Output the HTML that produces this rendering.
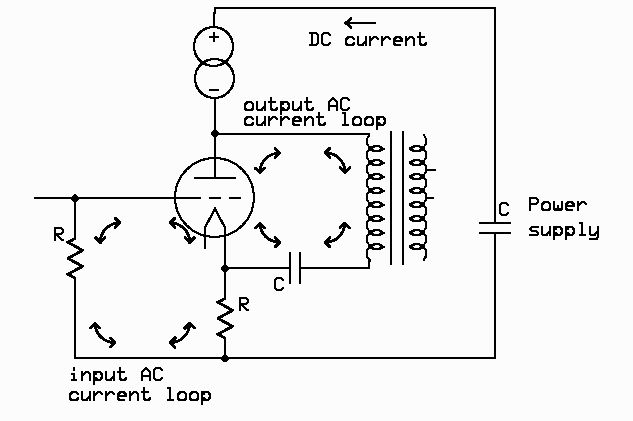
<!DOCTYPE html>
<html><head><meta charset="utf-8"><style>
html,body{margin:0;padding:0;background:#fcfcfc;width:633px;height:421px;overflow:hidden}
svg{display:block}
</style></head><body>
<svg width="633" height="421" viewBox="0 0 633 421">
<g fill="#000" shape-rendering="crispEdges">
<rect x="214" y="7" width="282" height="2"/>
<rect x="214" y="7" width="2" height="7"/>
<rect x="213" y="12" width="2" height="15"/>
<rect x="494" y="7" width="2" height="217"/>
<rect x="494" y="232" width="2" height="127"/>
<rect x="479" y="222" width="32" height="2"/>
<rect x="479" y="232" width="32" height="2"/>
<rect x="74" y="357" width="422" height="2"/>
<rect x="74" y="197" width="2" height="42"/>
<rect x="74" y="277" width="2" height="82"/>
<rect x="34" y="197" width="167" height="2"/>
<rect x="209" y="197" width="12" height="2"/>
<rect x="229" y="197" width="12" height="2"/>
<rect x="214" y="98" width="2" height="36"/>
<rect x="214" y="133" width="2" height="45"/>
<rect x="194" y="177" width="42" height="2"/>
<rect x="214" y="133" width="156" height="2"/>
<rect x="224" y="227" width="2" height="72"/>
<rect x="204" y="227" width="2" height="22"/>
<rect x="224" y="267" width="67" height="2"/>
<rect x="289" y="252" width="2" height="32"/>
<rect x="299" y="252" width="2" height="32"/>
<rect x="299" y="267" width="71" height="2"/>
<rect x="224" y="338" width="2" height="21"/>
<rect x="390" y="131" width="2" height="134"/>
<rect x="402" y="131" width="2" height="134"/>
<rect x="427" y="169" width="9" height="2"/>
<rect x="427" y="197" width="7" height="2"/>
<rect x="213" y="130" width="4" height="1"/>
<rect x="212" y="131" width="6" height="1"/>
<rect x="211" y="132" width="8" height="1"/>
<rect x="211" y="133" width="8" height="1"/>
<rect x="211" y="134" width="8" height="1"/>
<rect x="212" y="135" width="6" height="1"/>
<rect x="213" y="136" width="4" height="1"/>
<rect x="223" y="265" width="4" height="1"/>
<rect x="222" y="266" width="6" height="1"/>
<rect x="221" y="267" width="8" height="1"/>
<rect x="221" y="268" width="8" height="1"/>
<rect x="221" y="269" width="8" height="1"/>
<rect x="222" y="270" width="6" height="1"/>
<rect x="223" y="271" width="4" height="1"/>
<rect x="223" y="355" width="4" height="1"/>
<rect x="222" y="356" width="6" height="1"/>
<rect x="221" y="357" width="8" height="1"/>
<rect x="221" y="358" width="8" height="1"/>
<rect x="221" y="359" width="8" height="1"/>
<rect x="222" y="360" width="6" height="1"/>
<rect x="223" y="361" width="4" height="1"/>
<rect x="74" y="194" width="2" height="1"/>
<rect x="73" y="195" width="4" height="1"/>
<rect x="72" y="196" width="6" height="1"/>
<rect x="71" y="197" width="8" height="1"/>
<rect x="71" y="198" width="8" height="1"/>
<rect x="71" y="199" width="8" height="1"/>
<rect x="72" y="200" width="6" height="1"/>
<rect x="73" y="201" width="4" height="1"/>
<rect x="209" y="36" width="10" height="2"/>
<rect x="213" y="32" width="2" height="10"/>
<rect x="209" y="89" width="10" height="2"/>
<rect x="366" y="140" width="2" height="1"/>
<rect x="425" y="140" width="2" height="1"/>
<rect x="366" y="141" width="2" height="1"/>
<rect x="425" y="141" width="2" height="1"/>
<rect x="366" y="142" width="2" height="1"/>
<rect x="425" y="142" width="2" height="1"/>
<rect x="366" y="143" width="2" height="1"/>
<rect x="425" y="143" width="2" height="1"/>
<rect x="366" y="144" width="3" height="1"/>
<rect x="424" y="144" width="3" height="1"/>
<rect x="367" y="145" width="2" height="1"/>
<rect x="424" y="145" width="2" height="1"/>
<rect x="373" y="145" width="7" height="1"/>
<rect x="413" y="145" width="7" height="1"/>
<rect x="368" y="146" width="14" height="1"/>
<rect x="411" y="146" width="14" height="1"/>
<rect x="368" y="147" width="7" height="1"/>
<rect x="379" y="147" width="4" height="1"/>
<rect x="368" y="148" width="5" height="1"/>
<rect x="380" y="148" width="5" height="1"/>
<rect x="368" y="149" width="6" height="1"/>
<rect x="379" y="149" width="6" height="1"/>
<rect x="367" y="150" width="16" height="1"/>
<rect x="410" y="150" width="16" height="1"/>
<rect x="366" y="151" width="3" height="1"/>
<rect x="424" y="151" width="3" height="1"/>
<rect x="372" y="151" width="9" height="1"/>
<rect x="412" y="151" width="9" height="1"/>
<rect x="366" y="152" width="2" height="1"/>
<rect x="425" y="152" width="2" height="1"/>
<rect x="366" y="153" width="2" height="1"/>
<rect x="425" y="153" width="2" height="1"/>
<rect x="409" y="147" width="6" height="1"/>
<rect x="419" y="147" width="6" height="1"/>
<rect x="409" y="148" width="4" height="1"/>
<rect x="420" y="148" width="5" height="1"/>
<rect x="409" y="149" width="5" height="1"/>
<rect x="419" y="149" width="6" height="1"/>
<rect x="366" y="154" width="2" height="1"/>
<rect x="425" y="154" width="2" height="1"/>
<rect x="366" y="155" width="2" height="1"/>
<rect x="425" y="155" width="2" height="1"/>
<rect x="366" y="156" width="2" height="1"/>
<rect x="425" y="156" width="2" height="1"/>
<rect x="366" y="157" width="2" height="1"/>
<rect x="425" y="157" width="2" height="1"/>
<rect x="366" y="158" width="3" height="1"/>
<rect x="424" y="158" width="3" height="1"/>
<rect x="367" y="159" width="2" height="1"/>
<rect x="424" y="159" width="2" height="1"/>
<rect x="373" y="159" width="7" height="1"/>
<rect x="413" y="159" width="7" height="1"/>
<rect x="368" y="160" width="14" height="1"/>
<rect x="411" y="160" width="14" height="1"/>
<rect x="368" y="161" width="7" height="1"/>
<rect x="379" y="161" width="4" height="1"/>
<rect x="368" y="162" width="5" height="1"/>
<rect x="380" y="162" width="5" height="1"/>
<rect x="368" y="163" width="6" height="1"/>
<rect x="379" y="163" width="6" height="1"/>
<rect x="367" y="164" width="16" height="1"/>
<rect x="410" y="164" width="16" height="1"/>
<rect x="366" y="165" width="3" height="1"/>
<rect x="424" y="165" width="3" height="1"/>
<rect x="372" y="165" width="9" height="1"/>
<rect x="412" y="165" width="9" height="1"/>
<rect x="366" y="166" width="2" height="1"/>
<rect x="425" y="166" width="2" height="1"/>
<rect x="366" y="167" width="2" height="1"/>
<rect x="425" y="167" width="2" height="1"/>
<rect x="409" y="161" width="6" height="1"/>
<rect x="419" y="161" width="6" height="1"/>
<rect x="409" y="162" width="4" height="1"/>
<rect x="420" y="162" width="5" height="1"/>
<rect x="409" y="163" width="5" height="1"/>
<rect x="419" y="163" width="6" height="1"/>
<rect x="366" y="168" width="2" height="1"/>
<rect x="425" y="168" width="2" height="1"/>
<rect x="366" y="169" width="2" height="1"/>
<rect x="425" y="169" width="2" height="1"/>
<rect x="366" y="170" width="2" height="1"/>
<rect x="425" y="170" width="2" height="1"/>
<rect x="366" y="171" width="2" height="1"/>
<rect x="425" y="171" width="2" height="1"/>
<rect x="366" y="172" width="3" height="1"/>
<rect x="424" y="172" width="3" height="1"/>
<rect x="367" y="173" width="2" height="1"/>
<rect x="424" y="173" width="2" height="1"/>
<rect x="373" y="173" width="7" height="1"/>
<rect x="413" y="173" width="7" height="1"/>
<rect x="368" y="174" width="14" height="1"/>
<rect x="411" y="174" width="14" height="1"/>
<rect x="368" y="175" width="7" height="1"/>
<rect x="379" y="175" width="4" height="1"/>
<rect x="368" y="176" width="5" height="1"/>
<rect x="380" y="176" width="5" height="1"/>
<rect x="368" y="177" width="6" height="1"/>
<rect x="379" y="177" width="6" height="1"/>
<rect x="367" y="178" width="16" height="1"/>
<rect x="410" y="178" width="16" height="1"/>
<rect x="366" y="179" width="3" height="1"/>
<rect x="424" y="179" width="3" height="1"/>
<rect x="372" y="179" width="9" height="1"/>
<rect x="412" y="179" width="9" height="1"/>
<rect x="366" y="180" width="2" height="1"/>
<rect x="425" y="180" width="2" height="1"/>
<rect x="366" y="181" width="2" height="1"/>
<rect x="425" y="181" width="2" height="1"/>
<rect x="409" y="175" width="6" height="1"/>
<rect x="419" y="175" width="6" height="1"/>
<rect x="409" y="176" width="4" height="1"/>
<rect x="420" y="176" width="5" height="1"/>
<rect x="409" y="177" width="5" height="1"/>
<rect x="419" y="177" width="6" height="1"/>
<rect x="366" y="182" width="2" height="1"/>
<rect x="425" y="182" width="2" height="1"/>
<rect x="366" y="183" width="2" height="1"/>
<rect x="425" y="183" width="2" height="1"/>
<rect x="366" y="184" width="2" height="1"/>
<rect x="425" y="184" width="2" height="1"/>
<rect x="366" y="185" width="2" height="1"/>
<rect x="425" y="185" width="2" height="1"/>
<rect x="366" y="186" width="3" height="1"/>
<rect x="424" y="186" width="3" height="1"/>
<rect x="367" y="187" width="2" height="1"/>
<rect x="424" y="187" width="2" height="1"/>
<rect x="373" y="187" width="7" height="1"/>
<rect x="413" y="187" width="7" height="1"/>
<rect x="368" y="188" width="14" height="1"/>
<rect x="411" y="188" width="14" height="1"/>
<rect x="368" y="189" width="7" height="1"/>
<rect x="379" y="189" width="4" height="1"/>
<rect x="368" y="190" width="5" height="1"/>
<rect x="380" y="190" width="5" height="1"/>
<rect x="368" y="191" width="6" height="1"/>
<rect x="379" y="191" width="6" height="1"/>
<rect x="367" y="192" width="16" height="1"/>
<rect x="410" y="192" width="16" height="1"/>
<rect x="366" y="193" width="3" height="1"/>
<rect x="424" y="193" width="3" height="1"/>
<rect x="372" y="193" width="9" height="1"/>
<rect x="412" y="193" width="9" height="1"/>
<rect x="366" y="194" width="2" height="1"/>
<rect x="425" y="194" width="2" height="1"/>
<rect x="366" y="195" width="2" height="1"/>
<rect x="425" y="195" width="2" height="1"/>
<rect x="409" y="189" width="6" height="1"/>
<rect x="419" y="189" width="6" height="1"/>
<rect x="409" y="190" width="4" height="1"/>
<rect x="420" y="190" width="5" height="1"/>
<rect x="409" y="191" width="5" height="1"/>
<rect x="419" y="191" width="6" height="1"/>
<rect x="366" y="196" width="2" height="1"/>
<rect x="425" y="196" width="2" height="1"/>
<rect x="366" y="197" width="2" height="1"/>
<rect x="425" y="197" width="2" height="1"/>
<rect x="366" y="198" width="2" height="1"/>
<rect x="425" y="198" width="2" height="1"/>
<rect x="366" y="199" width="2" height="1"/>
<rect x="425" y="199" width="2" height="1"/>
<rect x="366" y="200" width="3" height="1"/>
<rect x="424" y="200" width="3" height="1"/>
<rect x="367" y="201" width="2" height="1"/>
<rect x="424" y="201" width="2" height="1"/>
<rect x="373" y="201" width="7" height="1"/>
<rect x="413" y="201" width="7" height="1"/>
<rect x="368" y="202" width="14" height="1"/>
<rect x="411" y="202" width="14" height="1"/>
<rect x="368" y="203" width="7" height="1"/>
<rect x="379" y="203" width="4" height="1"/>
<rect x="368" y="204" width="5" height="1"/>
<rect x="380" y="204" width="5" height="1"/>
<rect x="368" y="205" width="6" height="1"/>
<rect x="379" y="205" width="6" height="1"/>
<rect x="367" y="206" width="16" height="1"/>
<rect x="410" y="206" width="16" height="1"/>
<rect x="366" y="207" width="3" height="1"/>
<rect x="424" y="207" width="3" height="1"/>
<rect x="372" y="207" width="9" height="1"/>
<rect x="412" y="207" width="9" height="1"/>
<rect x="366" y="208" width="2" height="1"/>
<rect x="425" y="208" width="2" height="1"/>
<rect x="366" y="209" width="2" height="1"/>
<rect x="425" y="209" width="2" height="1"/>
<rect x="409" y="203" width="6" height="1"/>
<rect x="419" y="203" width="6" height="1"/>
<rect x="409" y="204" width="4" height="1"/>
<rect x="420" y="204" width="5" height="1"/>
<rect x="409" y="205" width="5" height="1"/>
<rect x="419" y="205" width="6" height="1"/>
<rect x="366" y="210" width="2" height="1"/>
<rect x="425" y="210" width="2" height="1"/>
<rect x="366" y="211" width="2" height="1"/>
<rect x="425" y="211" width="2" height="1"/>
<rect x="366" y="212" width="2" height="1"/>
<rect x="425" y="212" width="2" height="1"/>
<rect x="366" y="213" width="2" height="1"/>
<rect x="425" y="213" width="2" height="1"/>
<rect x="366" y="214" width="3" height="1"/>
<rect x="424" y="214" width="3" height="1"/>
<rect x="367" y="215" width="2" height="1"/>
<rect x="424" y="215" width="2" height="1"/>
<rect x="373" y="215" width="7" height="1"/>
<rect x="413" y="215" width="7" height="1"/>
<rect x="368" y="216" width="14" height="1"/>
<rect x="411" y="216" width="14" height="1"/>
<rect x="368" y="217" width="7" height="1"/>
<rect x="379" y="217" width="4" height="1"/>
<rect x="368" y="218" width="5" height="1"/>
<rect x="380" y="218" width="5" height="1"/>
<rect x="368" y="219" width="6" height="1"/>
<rect x="379" y="219" width="6" height="1"/>
<rect x="367" y="220" width="16" height="1"/>
<rect x="410" y="220" width="16" height="1"/>
<rect x="366" y="221" width="3" height="1"/>
<rect x="424" y="221" width="3" height="1"/>
<rect x="372" y="221" width="9" height="1"/>
<rect x="412" y="221" width="9" height="1"/>
<rect x="366" y="222" width="2" height="1"/>
<rect x="425" y="222" width="2" height="1"/>
<rect x="366" y="223" width="2" height="1"/>
<rect x="425" y="223" width="2" height="1"/>
<rect x="409" y="217" width="6" height="1"/>
<rect x="419" y="217" width="6" height="1"/>
<rect x="409" y="218" width="4" height="1"/>
<rect x="420" y="218" width="5" height="1"/>
<rect x="409" y="219" width="5" height="1"/>
<rect x="419" y="219" width="6" height="1"/>
<rect x="366" y="224" width="2" height="1"/>
<rect x="425" y="224" width="2" height="1"/>
<rect x="366" y="225" width="2" height="1"/>
<rect x="425" y="225" width="2" height="1"/>
<rect x="366" y="226" width="2" height="1"/>
<rect x="425" y="226" width="2" height="1"/>
<rect x="366" y="227" width="2" height="1"/>
<rect x="425" y="227" width="2" height="1"/>
<rect x="366" y="228" width="3" height="1"/>
<rect x="424" y="228" width="3" height="1"/>
<rect x="367" y="229" width="2" height="1"/>
<rect x="424" y="229" width="2" height="1"/>
<rect x="373" y="229" width="7" height="1"/>
<rect x="413" y="229" width="7" height="1"/>
<rect x="368" y="230" width="14" height="1"/>
<rect x="411" y="230" width="14" height="1"/>
<rect x="368" y="231" width="7" height="1"/>
<rect x="379" y="231" width="4" height="1"/>
<rect x="368" y="232" width="5" height="1"/>
<rect x="380" y="232" width="5" height="1"/>
<rect x="368" y="233" width="6" height="1"/>
<rect x="379" y="233" width="6" height="1"/>
<rect x="367" y="234" width="16" height="1"/>
<rect x="410" y="234" width="16" height="1"/>
<rect x="366" y="235" width="3" height="1"/>
<rect x="424" y="235" width="3" height="1"/>
<rect x="372" y="235" width="9" height="1"/>
<rect x="412" y="235" width="9" height="1"/>
<rect x="366" y="236" width="2" height="1"/>
<rect x="425" y="236" width="2" height="1"/>
<rect x="366" y="237" width="2" height="1"/>
<rect x="425" y="237" width="2" height="1"/>
<rect x="409" y="231" width="6" height="1"/>
<rect x="419" y="231" width="6" height="1"/>
<rect x="409" y="232" width="4" height="1"/>
<rect x="420" y="232" width="5" height="1"/>
<rect x="409" y="233" width="5" height="1"/>
<rect x="419" y="233" width="6" height="1"/>
<rect x="366" y="238" width="2" height="1"/>
<rect x="425" y="238" width="2" height="1"/>
<rect x="366" y="239" width="2" height="1"/>
<rect x="425" y="239" width="2" height="1"/>
<rect x="366" y="240" width="2" height="1"/>
<rect x="425" y="240" width="2" height="1"/>
<rect x="366" y="241" width="2" height="1"/>
<rect x="425" y="241" width="2" height="1"/>
<rect x="366" y="242" width="3" height="1"/>
<rect x="424" y="242" width="3" height="1"/>
<rect x="367" y="243" width="2" height="1"/>
<rect x="424" y="243" width="2" height="1"/>
<rect x="373" y="243" width="7" height="1"/>
<rect x="413" y="243" width="7" height="1"/>
<rect x="368" y="244" width="14" height="1"/>
<rect x="411" y="244" width="14" height="1"/>
<rect x="368" y="245" width="7" height="1"/>
<rect x="379" y="245" width="4" height="1"/>
<rect x="368" y="246" width="5" height="1"/>
<rect x="380" y="246" width="5" height="1"/>
<rect x="368" y="247" width="6" height="1"/>
<rect x="379" y="247" width="6" height="1"/>
<rect x="367" y="248" width="16" height="1"/>
<rect x="410" y="248" width="16" height="1"/>
<rect x="366" y="249" width="3" height="1"/>
<rect x="424" y="249" width="3" height="1"/>
<rect x="372" y="249" width="9" height="1"/>
<rect x="412" y="249" width="9" height="1"/>
<rect x="366" y="250" width="2" height="1"/>
<rect x="425" y="250" width="2" height="1"/>
<rect x="366" y="251" width="2" height="1"/>
<rect x="425" y="251" width="2" height="1"/>
<rect x="409" y="245" width="6" height="1"/>
<rect x="419" y="245" width="6" height="1"/>
<rect x="409" y="246" width="4" height="1"/>
<rect x="420" y="246" width="5" height="1"/>
<rect x="409" y="247" width="5" height="1"/>
<rect x="419" y="247" width="6" height="1"/>
<rect x="368" y="135" width="2" height="1"/>
<rect x="367" y="136" width="3" height="1"/>
<rect x="367" y="137" width="2" height="1"/>
<rect x="366" y="138" width="2" height="1"/>
<rect x="366" y="139" width="2" height="1"/>
<rect x="366" y="252" width="2" height="1"/>
<rect x="366" y="253" width="2" height="1"/>
<rect x="366" y="254" width="2" height="1"/>
<rect x="366" y="255" width="2" height="1"/>
<rect x="366" y="256" width="2" height="1"/>
<rect x="366" y="257" width="3" height="1"/>
<rect x="367" y="258" width="3" height="1"/>
<rect x="368" y="259" width="3" height="1"/>
<rect x="368" y="260" width="3" height="1"/>
<rect x="368" y="261" width="3" height="1"/>
<rect x="368" y="262" width="2" height="7"/>
<rect x="423" y="134" width="2" height="1"/>
<rect x="423" y="135" width="2" height="1"/>
<rect x="424" y="136" width="2" height="1"/>
<rect x="424" y="137" width="2" height="1"/>
<rect x="425" y="138" width="2" height="1"/>
<rect x="425" y="139" width="2" height="1"/>
<rect x="425" y="252" width="2" height="1"/>
<rect x="425" y="253" width="2" height="1"/>
<rect x="425" y="254" width="2" height="1"/>
<rect x="425" y="255" width="2" height="1"/>
<rect x="424" y="256" width="3" height="1"/>
<rect x="424" y="257" width="3" height="1"/>
<rect x="423" y="258" width="3" height="1"/>
<rect x="423" y="259" width="2" height="1"/>
<rect x="423" y="260" width="2" height="1"/>
</g>
<g fill="#000" shape-rendering="crispEdges">

</g>
<g id="pen" fill="none" stroke="#000" stroke-width="1" stroke-linecap="square" stroke-linejoin="miter" shape-rendering="crispEdges" transform="translate(-0.5,-0.5)">
<path d="M205 227.5 L215 209 L225 227.5"/>
<circle cx="213.5" cy="46.5" r="19.5"/>
<circle cx="214.5" cy="78.5" r="19.5"/>
<circle cx="214.5" cy="197.5" r="39.5"/>
<path transform="translate(308,32)" d="M2 1H8L10 3V11L8 13H2M4 1V13"/>
<path transform="translate(320,32)" d="M10 3L8 1H4L2 3V11L4 13H8L10 11"/>
<path transform="translate(344,32)" d="M10 7L8 5H4L2 7V12L3 13H9L10 12V11M3 7H3.01M4 6H4.01M3 12H3.01M9 12H9.01"/>
<path transform="translate(356,32)" d="M2 5V12L3 13H7M7 12L9 10M10 5V13"/>
<path transform="translate(368,32)" d="M2 5V13M2 9L6 5H8L10 7"/>
<path transform="translate(380,32)" d="M2 5V13M2 9L6 5H8L10 7"/>
<path transform="translate(392,32)" d="M2 9H10V7L8 5H4L2 7V12L3 13H8M3 12H3.01M4 6H4.01M8 6H8.01M3 7H3.01M9 7H9.01"/>
<path transform="translate(404,32)" d="M2 5V13M2 9L6 5H8L10 7V13"/>
<path transform="translate(416,32)" d="M4 1V12M5 12V13H9V12M10 11V12M2 5H8"/>
<path transform="translate(243,97)" d="M2 7L4 5H8L10 7V12L9 13H3L2 12ZM3 7H3.01M4 6H4.01M3 12H3.01M9 12H9.01"/>
<path transform="translate(255,97)" d="M2 5V12L3 13H7M7 12L9 10M10 5V13"/>
<path transform="translate(267,97)" d="M4 1V12M5 12V13H9V12M10 11V12M2 5H8"/>
<path transform="translate(279,97)" d="M2 5V17M2 7L4 5H8L10 7V11L8 13H2M4 7H4.01M4 11L5 12M9 7H9.01M9 11H9.01"/>
<path transform="translate(291,97)" d="M2 5V12L3 13H7M7 12L9 10M10 5V13"/>
<path transform="translate(303,97)" d="M4 1V12M5 12V13H9V12M10 11V12M2 5H8"/>
<path transform="translate(327,97)" d="M2 13V5L6 1L10 5V13M2 9H10"/>
<path transform="translate(339,97)" d="M10 3L8 1H4L2 3V11L4 13H8L10 11"/>
<path transform="translate(243,112)" d="M10 7L8 5H4L2 7V12L3 13H9L10 12V11M3 7H3.01M4 6H4.01M3 12H3.01M9 12H9.01"/>
<path transform="translate(255,112)" d="M2 5V12L3 13H7M7 12L9 10M10 5V13"/>
<path transform="translate(267,112)" d="M2 5V13M2 9L6 5H8L10 7"/>
<path transform="translate(279,112)" d="M2 5V13M2 9L6 5H8L10 7"/>
<path transform="translate(291,112)" d="M2 9H10V7L8 5H4L2 7V12L3 13H8M3 12H3.01M4 6H4.01M8 6H8.01M3 7H3.01M9 7H9.01"/>
<path transform="translate(303,112)" d="M2 5V13M2 9L6 5H8L10 7V13"/>
<path transform="translate(315,112)" d="M4 1V12M5 12V13H9V12M10 11V12M2 5H8"/>
<path transform="translate(339,112)" d="M4 1H6V13M4 13H9"/>
<path transform="translate(351,112)" d="M2 7L4 5H8L10 7V12L9 13H3L2 12ZM3 7H3.01M4 6H4.01M3 12H3.01M9 12H9.01"/>
<path transform="translate(363,112)" d="M2 7L4 5H8L10 7V12L9 13H3L2 12ZM3 7H3.01M4 6H4.01M3 12H3.01M9 12H9.01"/>
<path transform="translate(375,112)" d="M2 5V17M2 7L4 5H8L10 7V11L8 13H2M4 7H4.01M4 11L5 12M9 7H9.01M9 11H9.01"/>
<path transform="translate(528,197)" d="M2 13V1H8L10 3V5L8 7H2"/>
<path transform="translate(540,197)" d="M2 7L4 5H8L10 7V12L9 13H3L2 12ZM3 7H3.01M4 6H4.01M3 12H3.01M9 12H9.01"/>
<path transform="translate(552,197)" d="M2 5V12M10 5V12M6 9V12M2 12H10M3 13H9"/>
<path transform="translate(564,197)" d="M2 9H10V7L8 5H4L2 7V12L3 13H8M3 12H3.01M4 6H4.01M8 6H8.01M3 7H3.01M9 7H9.01"/>
<path transform="translate(576,197)" d="M2 5V13M2 9L6 5H8L10 7"/>
<path transform="translate(528,222)" d="M10 5H4L2 7L3 8M4 9H8L10 11V12M2 13H9"/>
<path transform="translate(540,222)" d="M2 5V12L3 13H7M7 12L9 10M10 5V13"/>
<path transform="translate(552,222)" d="M2 5V17M2 7L4 5H8L10 7V11L8 13H2M4 7H4.01M4 11L5 12M9 7H9.01M9 11H9.01"/>
<path transform="translate(564,222)" d="M2 5V17M2 7L4 5H8L10 7V11L8 13H2M4 7H4.01M4 11L5 12M9 7H9.01M9 11H9.01"/>
<path transform="translate(576,222)" d="M4 1H6V13M4 13H9"/>
<path transform="translate(588,222)" d="M2 5V12L3 13H7M7 12L9 10M10 5V15L9 16V17H2"/>
<path transform="translate(498,202)" d="M10 3L8 1H4L2 3V11L4 13H8L10 11"/>
<path transform="translate(53,227)" d="M2 13V1H8L10 3V5L8 7H2M3 7L9 13H10"/>
<path transform="translate(273,277)" d="M10 3L8 1H4L2 3V11L4 13H8L10 11"/>
<path transform="translate(238,297)" d="M2 13V1H8L10 3V5L8 7H2M3 7L9 13H10"/>
<path transform="translate(68,367)" d="M4 7H6V13M4 13H8M6 1V3"/>
<path transform="translate(80,367)" d="M2 5V13M2 9L6 5H8L10 7V13"/>
<path transform="translate(92,367)" d="M2 5V17M2 7L4 5H8L10 7V11L8 13H2M4 7H4.01M4 11L5 12M9 7H9.01M9 11H9.01"/>
<path transform="translate(104,367)" d="M2 5V12L3 13H7M7 12L9 10M10 5V13"/>
<path transform="translate(116,367)" d="M4 1V12M5 12V13H9V12M10 11V12M2 5H8"/>
<path transform="translate(140,367)" d="M2 13V5L6 1L10 5V13M2 9H10"/>
<path transform="translate(152,367)" d="M10 3L8 1H4L2 3V11L4 13H8L10 11"/>
<path transform="translate(68,387)" d="M10 7L8 5H4L2 7V12L3 13H9L10 12V11M3 7H3.01M4 6H4.01M3 12H3.01M9 12H9.01"/>
<path transform="translate(80,387)" d="M2 5V12L3 13H7M7 12L9 10M10 5V13"/>
<path transform="translate(92,387)" d="M2 5V13M2 9L6 5H8L10 7"/>
<path transform="translate(104,387)" d="M2 5V13M2 9L6 5H8L10 7"/>
<path transform="translate(116,387)" d="M2 9H10V7L8 5H4L2 7V12L3 13H8M3 12H3.01M4 6H4.01M8 6H8.01M3 7H3.01M9 7H9.01"/>
<path transform="translate(128,387)" d="M2 5V13M2 9L6 5H8L10 7V13"/>
<path transform="translate(140,387)" d="M4 1V12M5 12V13H9V12M10 11V12M2 5H8"/>
<path transform="translate(164,387)" d="M4 1H6V13M4 13H9"/>
<path transform="translate(176,387)" d="M2 7L4 5H8L10 7V12L9 13H3L2 12ZM3 7H3.01M4 6H4.01M3 12H3.01M9 12H9.01"/>
<path transform="translate(188,387)" d="M2 7L4 5H8L10 7V12L9 13H3L2 12ZM3 7H3.01M4 6H4.01M3 12H3.01M9 12H9.01"/>
<path transform="translate(200,387)" d="M2 5V17M2 7L4 5H8L10 7V11L8 13H2M4 7H4.01M4 11L5 12M9 7H9.01M9 11H9.01"/>
</g>
<use href="#pen" x="1"/><use href="#pen" y="1"/><use href="#pen" x="1" y="1"/>
<g id="apen" fill="none" stroke="#000" stroke-width="1.6" stroke-linecap="square" stroke-linejoin="miter" shape-rendering="crispEdges" transform="translate(-0.5,-0.5)">
<path d="M75 238.5 L68 242.3 L82.5 250.3 L68 258.4 L82.5 266.3 L68 274.3 L75 278"/>
<path d="M225 298.5 L218 302.3 L232.5 310.3 L218 318.4 L232.5 326.3 L218 334.3 L225 338"/>
<path d="M279.70 153.00 A19.90 19.60 0 0 0 259.80 172.60 M275.20 148.40 L279.70 153.00 L275.20 157.60 M255.20 168.10 L259.80 172.60 L264.40 168.10"/>
<path d="M325.30 152.80 A19.70 19.40 0 0 1 345.00 172.20 M329.80 148.20 L325.30 152.80 L329.80 157.40 M340.40 167.70 L345.00 172.20 L349.60 167.70"/>
<path d="M279.70 242.30 A19.70 19.00 0 0 1 260.00 223.30 M275.20 237.70 L279.70 242.30 L275.20 246.90 M255.40 227.80 L260.00 223.30 L264.60 227.80"/>
<path d="M325.30 242.30 A19.30 19.00 0 0 0 344.60 223.30 M329.80 237.70 L325.30 242.30 L329.80 246.90 M340.00 227.80 L344.60 223.30 L349.20 227.80"/>
<path d="M119.80 222.80 A19.50 19.50 0 0 0 100.30 242.30 M115.30 218.20 L119.80 222.80 L115.30 227.40 M95.70 237.80 L100.30 242.30 L104.90 237.80"/>
<path d="M170.30 222.80 A19.40 19.50 0 0 1 189.70 242.30 M174.80 218.20 L170.30 222.80 L174.80 227.40 M185.10 237.80 L189.70 242.30 L194.30 237.80"/>
<path d="M114.90 342.60 A19.80 19.20 0 0 1 95.10 323.40 M110.40 338.00 L114.90 342.60 L110.40 347.20 M90.50 327.90 L95.10 323.40 L99.70 327.90"/>
<path d="M170.50 342.60 A19.10 19.20 0 0 0 189.60 323.40 M175.00 338.00 L170.50 342.60 L175.00 347.20 M185.00 327.90 L189.60 323.40 L194.20 327.90"/>
<path d="M375 23 L346 23 M351 18.6 L346 23 L351 27.4"/>
</g>
<use href="#apen" x="1"/><use href="#apen" y="1"/><use href="#apen" x="1" y="1"/>
</svg>
</body></html>
